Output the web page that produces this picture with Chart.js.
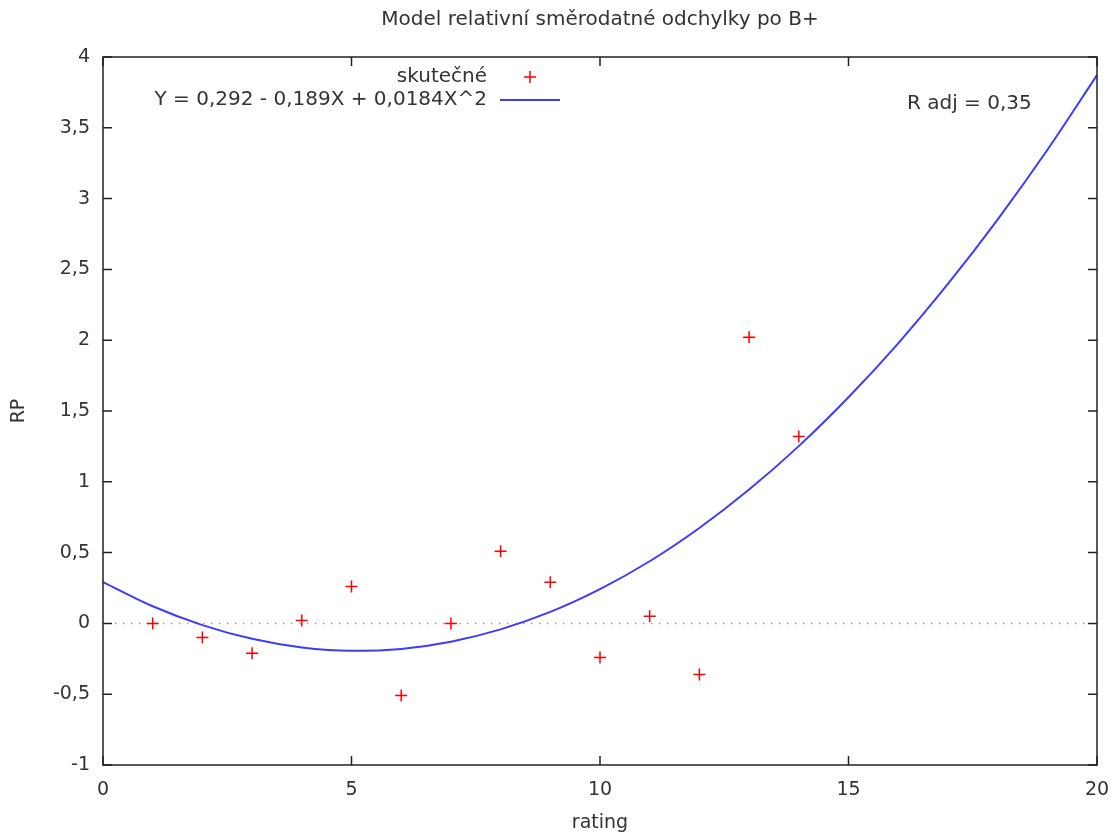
<!DOCTYPE html>
<html>
<head>
<meta charset="utf-8">
<script src="https://cdn.jsdelivr.net/npm/chart.js@4.4.0/dist/chart.umd.min.js"></script>
<style>
  html, body { margin: 0; padding: 0; background: #fff; }
</style>
</head>
<body>
<canvas id="chart" width="1113" height="834"></canvas>
<script>
// measured points (rating -> RP)
const ratings = [1, 2, 3, 4, 5, 6, 7, 8, 9, 10, 11, 12, 13, 14];
const rpValues = [0, -0.1, -0.21, 0.02, 0.26, -0.51, 0, 0.51, 0.29, -0.24, 0.05, -0.36, 2.02, 1.32];

// fitted curve at each rating
const fitX = [0, 1, 2, 3, 4, 5, 6, 7, 8, 9, 10, 11, 12, 13, 14, 15, 16, 17, 18, 19, 20];
const fitY = [0.292, 0.121, -0.012, -0.109, -0.17, -0.193, -0.18, -0.129, -0.042, 0.081, 0.242, 0.439, 0.674, 0.945, 1.252, 1.597, 1.978, 2.397, 2.852, 3.343, 3.872];

const xTicks = [0, 5, 10, 15, 20];
const yTicks = [-1, -0.5, 0, 0.5, 1, 1.5, 2, 2.5, 3, 3.5, 4];

const titleText = 'Model relativní směrodatné odchylky po B+';
const xTitle = 'rating';
const yTitle = 'RP';
const legendLabels = ['skutečné', 'Y = 0,292 - 0,189X + 0,0184X^2'];
const rAdjLabel = 'R adj = 0,35';

const FONT = '"DejaVu Sans", Verdana, sans-serif';
const FS = 19;
const FS_KEY = 20;
const TEXT = '#333';
const fmt = v => String(v).replace('.', ',');

const framePlugin = {
  id: 'frame',
  beforeDatasetsDraw(chart) {
    const { ctx, chartArea: a, scales: { y } } = chart;
    const y0 = y.getPixelForValue(0);
    ctx.save();
    ctx.strokeStyle = '#a0a0a0';
    ctx.lineWidth = 1.5;
    ctx.setLineDash([1.5, 6.5]);
    ctx.beginPath();
    ctx.moveTo(a.left + 12, y0);
    ctx.lineTo(a.right, y0);
    ctx.stroke();
    ctx.restore();
  },
  afterDatasetsDraw(chart) {
    const { ctx, chartArea: a, scales: { x, y } } = chart;
    const tl = 9;
    ctx.save();
    ctx.strokeStyle = '#222';
    ctx.lineWidth = 1.5;
    ctx.strokeRect(a.left, a.top, a.right - a.left, a.bottom - a.top);
    ctx.beginPath();
    xTicks.forEach(v => {
      const px = x.getPixelForValue(v);
      ctx.moveTo(px, a.bottom); ctx.lineTo(px, a.bottom - tl);
      ctx.moveTo(px, a.top); ctx.lineTo(px, a.top + tl);
    });
    yTicks.forEach(v => {
      const py = y.getPixelForValue(v);
      ctx.moveTo(a.left, py); ctx.lineTo(a.left + tl, py);
      ctx.moveTo(a.right, py); ctx.lineTo(a.right - tl, py);
    });
    ctx.stroke();

    // key
    ctx.font = FS_KEY + 'px ' + FONT;
    ctx.fillStyle = TEXT;
    ctx.textAlign = 'right';
    ctx.textBaseline = 'middle';
    ctx.fillText(legendLabels[0], 487, 77);
    ctx.fillText(legendLabels[1], 487, 100);
    ctx.strokeStyle = '#ff0000';
    ctx.lineWidth = 1.5;
    ctx.beginPath();
    ctx.moveTo(524, 77); ctx.lineTo(536, 77);
    ctx.moveTo(530, 71); ctx.lineTo(530, 83);
    ctx.stroke();
    ctx.strokeStyle = '#3c3cff';
    ctx.lineWidth = 2;
    ctx.beginPath();
    ctx.moveTo(500, 100); ctx.lineTo(560, 100);
    ctx.stroke();

    ctx.textAlign = 'left';
    ctx.fillText(rAdjLabel, 907, 104);
    ctx.restore();
  }
};

new Chart(document.getElementById('chart'), {
  type: 'scatter',
  data: {
    datasets: [
      {
        label: legendLabels[1],
        type: 'line',
        data: fitX.map((v, i) => ({ x: v, y: fitY[i] })),
        borderColor: '#3c3cff',
        borderWidth: 2,
        pointRadius: 0,
        cubicInterpolationMode: 'monotone',
        fill: false
      },
      {
        label: legendLabels[0],
        data: ratings.map((v, i) => ({ x: v, y: rpValues[i] })),
        pointStyle: 'cross',
        pointRadius: 6,
        borderColor: '#ff0000',
        backgroundColor: '#ff0000',
        borderWidth: 1.5
      }
    ]
  },
  options: {
    responsive: false,
    animation: false,
    devicePixelRatio: 1,
    layout: { padding: { left: 0, right: 16, top: 0, bottom: 0 } },
    plugins: {
      legend: { display: false },
      tooltip: { enabled: false },
      title: {
        display: true,
        text: titleText,
        fullSize: false,
        color: TEXT,
        font: { family: FONT, size: FS_KEY, weight: 'normal' },
        padding: { top: 8, bottom: 25 }
      }
    },
    scales: {
      x: {
        type: 'linear',
        min: 0, max: 20,
        afterBuildTicks: s => { s.ticks = xTicks.map(v => ({ value: v })); },
        afterFit: s => { s.height = 69; s.paddingLeft = 0; s.paddingRight = 0; },
        grid: { display: false, drawTicks: false },
        border: { display: false },
        ticks: { color: TEXT, font: { family: FONT, size: FS }, padding: 14, maxRotation: 0, callback: fmt },
        title: { display: true, text: xTitle, color: TEXT, font: { family: FONT, size: FS, lineHeight: 1.1 }, padding: { top: 0, bottom: 0 } }
      },
      y: {
        type: 'linear',
        min: -1, max: 4,
        afterBuildTicks: s => { s.ticks = yTicks.map(v => ({ value: v })); },
        afterFit: s => { s.width = 103; s.paddingTop = 0; s.paddingBottom = 0; },
        grid: { display: false, drawTicks: false },
        border: { display: false },
        ticks: { color: TEXT, font: { family: FONT, size: FS }, padding: 13, callback: fmt },
        title: { display: true, text: yTitle, color: TEXT, font: { family: FONT, size: FS }, padding: { top: 8, bottom: 0 } }
      }
    }
  },
  plugins: [framePlugin]
});
</script>
</body>
</html>
